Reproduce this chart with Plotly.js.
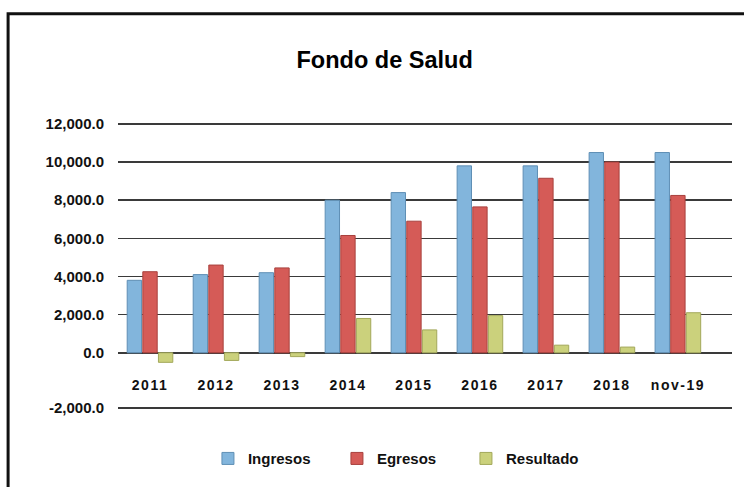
<!DOCTYPE html>
<html>
<head>
<meta charset="utf-8">
<script src="https://cdn.plot.ly/plotly-3.0.1.min.js"></script>
<style>
html,body{margin:0;padding:0;background:#fff;}
#chart{width:744px;height:487px;}
#chart .xtick text{letter-spacing:1.5px;}
</style>
</head>
<body>
<div id="chart"></div>
<script>
const categories = ['2011','2012','2013','2014','2015','2016','2017','2018','nov-19'];
const ingresos  = [3800, 4100, 4200, 8000, 8400, 9800, 9800, 10500, 10500];
const egresos   = [4250, 4600, 4450, 6150, 6900, 7650, 9150, 10000, 8250];
const resultado = [-500, -400, -200, 1800, 1200, 1950, 400, 300, 2100];
const seriesNames = ['Ingresos', 'Egresos', 'Resultado'];
const yTickVals = [0, 2000, 4000, 6000, 8000, 10000, 12000];
const yTickText = ['0.0', '2,000.0', '4,000.0', '6,000.0', '8,000.0', '10,000.0', '12,000.0'];
const floorLabel = '-2,000.0';
const yFloor = -2900; // floor of the chart, drawn lower than -2000 as in the 3-D original
const yTop = 12000;
const Y_RANGE = [-3156, 12100];
const floorPaper = (yFloor - Y_RANGE[0]) / (Y_RANGE[1] - Y_RANGE[0]);

const FONT = 'Liberation Sans, Arial, Helvetica, sans-serif';
const colors = ['#82b5dc', '#d55b57', '#cbd17c'];
const edges  = ['#5f8fb5', '#a8403d', '#a3a85a'];
const GRID = '#3a3a3a';

const traces = [ingresos, egresos, resultado].map((vals, i) => ({
  type: 'bar',
  name: seriesNames[i],
  x: categories,
  y: vals,
  marker: {color: colors[i], line: {color: edges[i], width: 1}},
  hoverinfo: 'x+y+name'
}));

const layout = {
  width: 744, height: 487,
  margin: {l: 118, r: 12, t: 122, b: 72},
  paper_bgcolor: '#ffffff',
  plot_bgcolor: 'rgba(0,0,0,0)',
  font: {family: FONT, color: '#111', size: 14},
  title: {
    text: '<b>Fondo de Salud</b>',
    font: {family: FONT, size: 23.5, color: '#000'},
    x: 0.517, xref: 'container', xanchor: 'center',
    y: 0.877, yref: 'container', yanchor: 'middle'
  },
  barmode: 'group',
  bargap: 0.29,
  bargroupgap: 0.08,
  xaxis: {
    type: 'category',
    range: [-0.485, 8.82],
    anchor: 'free',
    position: 0.1317,
    showline: false,
    showgrid: false,
    ticks: '',
    tickfont: {family: FONT, size: 14, color: '#111', weight: 'bold'},
    fixedrange: true
  },
  yaxis: {
    range: Y_RANGE,
    tickvals: [yFloor].concat(yTickVals),
    ticktext: [floorLabel].concat(yTickText),
    showgrid: true,
    gridcolor: GRID,
    gridwidth: 1.5,
    zeroline: false,
    showline: false,
    ticks: '',
    ticklabelstandoff: 13,
    tickfont: {family: FONT, size: 15, color: '#111', weight: 'bold'},
    fixedrange: true
  },
  showlegend: true,
  legend: {
    orientation: 'h',
    x: 0.1465, xanchor: 'left',
    y: -0.157, yanchor: 'middle',
    entrywidth: 84,
    entrywidthmode: 'pixels',
    font: {family: FONT, size: 15, color: '#111', weight: 'bold'},
    bgcolor: 'rgba(0,0,0,0)'
  },
  shapes: [
    {
      type: 'rect', xref: 'paper', yref: 'paper',
      x0: -0.179, x1: 1.2, y0: -0.5, y1: 1.372,
      line: {color: '#111', width: 3},
      fillcolor: 'rgba(0,0,0,0)',
      layer: 'below'
    },
    {
      type: 'line', xref: 'paper', yref: 'paper',
      x0: 0, x1: 1, y0: floorPaper, y1: floorPaper,
      line: {color: GRID, width: 1.5}, layer: 'above'
    },
    {
      type: 'line', xref: 'paper', yref: 'y',
      x0: 0, x1: 1, y0: yTop, y1: yTop,
      line: {color: GRID, width: 1.5}, layer: 'below'
    }
  ]
};

Plotly.newPlot('chart', traces, layout, {displayModeBar: false, staticPlot: true});
</script>
</body>
</html>
